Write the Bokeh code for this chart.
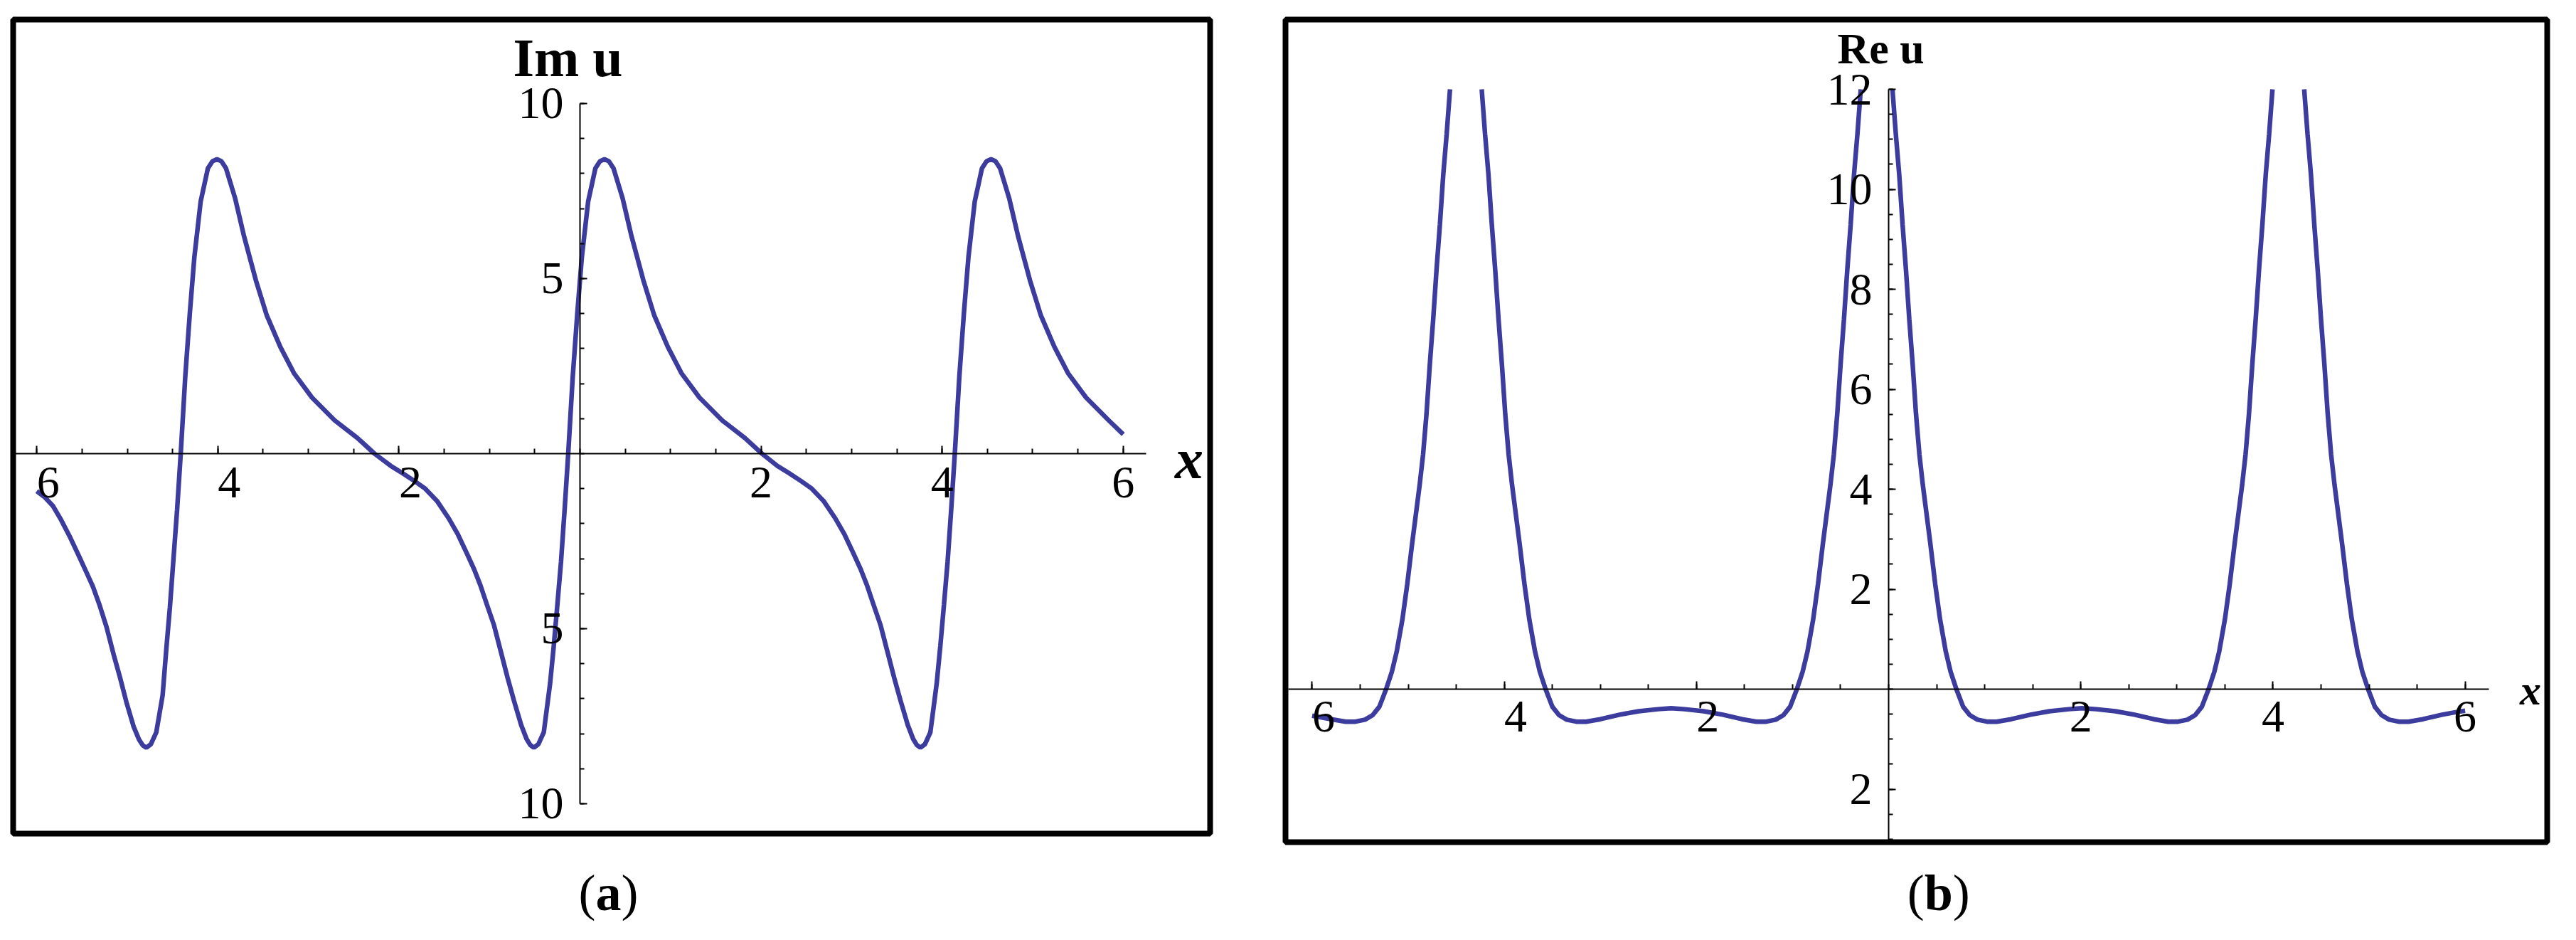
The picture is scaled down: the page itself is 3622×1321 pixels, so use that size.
import numpy as np
from bokeh.plotting import figure
from bokeh.models import Range1d, FixedTicker, Label, ColumnDataSource
from bokeh.layouts import row, column
from bokeh.embed import file_html
from bokeh.resources import INLINE

NAN = float("nan")

# ---------------- data: panel (a)  Im u ----------------
im_x = [-6.00, -5.91, -5.82, -5.73, -5.63, -5.53, -5.45, -5.38, -5.31, -5.23, -5.15, -5.08, -5.01,
        -4.93, -4.87, -4.83, -4.79, -4.74, -4.68, -4.61, -4.57, -4.53, -4.49, -4.45, -4.41,
        -4.36, -4.31, -4.26, -4.19, -4.11, -4.06, -4.01, -3.96, -3.91, -3.81, -3.71, -3.58,
        -3.46, -3.31, -3.16, -2.96, -2.71, -2.46, -2.27,
        -2.09, -1.96, -1.83, -1.71, -1.58, -1.45, -1.35, -1.25, -1.17, -1.10, -1.03, -0.95,
        -0.87, -0.80, -0.73, -0.65, -0.59, -0.55, -0.51, -0.46, -0.40, -0.33, -0.29, -0.25,
        -0.21, -0.17, -0.13,
        -0.08, -0.03, 0.02, 0.09, 0.17, 0.22, 0.27, 0.32, 0.37, 0.47, 0.57, 0.70, 0.82, 0.97,
        1.12, 1.32, 1.57, 1.82, 2.01,
        2.18, 2.31, 2.44, 2.56, 2.69, 2.82, 2.92, 3.02, 3.10, 3.17, 3.24, 3.32, 3.40, 3.47,
        3.54, 3.62, 3.68, 3.72, 3.76, 3.81, 3.87, 3.94, 3.98, 4.02, 4.06, 4.10, 4.14,
        4.19, 4.24, 4.29, 4.36, 4.44, 4.49, 4.54, 4.59, 4.64, 4.74, 4.84, 4.97, 5.09, 5.24,
        5.39, 5.59, 5.84, 6.00]
im_y = [-1.07, -1.25, -1.5, -1.9, -2.4, -2.95, -3.4, -3.8, -4.3, -4.95, -5.75, -6.4, -7.1,
        -7.8, -8.17, -8.33, -8.40, -8.3, -7.96, -6.9, -5.6, -4.4, -3.0, -1.6, 0.0,
        2.2, 4.0, 5.6, 7.2, 8.15, 8.35, 8.41, 8.35, 8.15, 7.3, 6.2, 4.95,
        3.95, 3.05, 2.3, 1.6, 0.95, 0.45, 0.0,
        -0.35, -0.56, -0.78, -1.0, -1.35, -1.85, -2.3, -2.85, -3.3, -3.76, -4.3, -4.9,
        -5.7, -6.4, -7.05, -7.75, -8.15, -8.32, -8.40, -8.3, -7.96, -6.56, -5.5, -4.32,
        -3.1, -1.6, 0.0,
        2.2, 4.0, 5.6, 7.2, 8.15, 8.35, 8.41, 8.35, 8.15, 7.3, 6.2, 4.95, 3.95, 3.05,
        2.3, 1.6, 0.95, 0.45, 0.0,
        -0.35, -0.56, -0.78, -1.0, -1.35, -1.85, -2.3, -2.85, -3.3, -3.76, -4.3, -4.9, -5.7, -6.4,
        -7.05, -7.75, -8.15, -8.32, -8.40, -8.3, -7.96, -6.56, -5.5, -4.32, -3.1, -1.6, 0.0,
        2.2, 4.0, 5.6, 7.2, 8.15, 8.35, 8.41, 8.35, 8.15, 7.3, 6.2, 4.95, 3.95, 3.05,
        2.3, 1.6, 0.95, 0.55]

# ---------------- data: panel (b)  Re u (clipped at the top of the plot range) ----------------
re_x = [-6.00, -5.80, -5.65, -5.55, -5.45, -5.37, -5.30, -5.23, -5.17, -5.12, -5.06, -5.01,
        -4.96, -4.92, -4.88, -4.845, -4.81, -4.775, -4.74, -4.705, -4.67, -4.635, -4.60, -4.565,
        NAN,
        -4.235, -4.20, -4.165, -4.13, -4.095, -4.06, -4.025, -3.99, -3.955, -3.92, -3.88, -3.84,
        -3.79, -3.74, -3.68, -3.63, -3.57, -3.50, -3.43, -3.35, -3.25, -3.15, -3.00, -2.80,
        -2.60, -2.40, -2.265,
        -2.125, -1.925, -1.725, -1.525, -1.375, -1.275, -1.175, -1.095, -1.025, -0.955,
        -0.895, -0.845, -0.785, -0.735, -0.685, -0.645, -0.605, -0.57, -0.535, -0.50,
        -0.465, -0.43, -0.395, -0.36, -0.325, -0.29,
        NAN,
        0.04, 0.075, 0.11, 0.145, 0.18, 0.215, 0.25, 0.285, 0.32, 0.355,
        0.395, 0.435, 0.485, 0.535, 0.595, 0.645, 0.705, 0.775, 0.845, 0.925,
        1.025, 1.125, 1.275, 1.475, 1.675, 1.875, 2.01,
        2.16, 2.36, 2.56, 2.76, 2.91, 3.01, 3.11, 3.19, 3.26, 3.33,
        3.39, 3.44, 3.50, 3.55, 3.60, 3.64, 3.68, 3.715, 3.75, 3.785,
        3.82, 3.855, 3.89, 3.925, 3.96, 3.995,
        NAN,
        4.325, 4.36, 4.395, 4.43, 4.465, 4.50, 4.535, 4.57, 4.605, 4.64,
        4.68, 4.72, 4.77, 4.82, 4.88, 4.93, 4.99, 5.06, 5.13, 5.21,
        5.31, 5.41, 5.56, 5.76, 5.90, 6.00]
re_y = [-0.53, -0.60, -0.65, -0.65, -0.61, -0.52, -0.35, 0.0, 0.35, 0.75, 1.4, 2.1,
        2.9, 3.5, 4.1, 4.7, 5.5, 6.5, 7.4, 8.4, 9.3, 10.3, 11.1, 12.0,
        NAN,
        12.0, 11.1, 10.3, 9.3, 8.4, 7.4, 6.5, 5.5, 4.7, 4.1, 3.5, 2.9,
        2.1, 1.4, 0.75, 0.35, 0.0, -0.35, -0.52, -0.61, -0.65, -0.65, -0.60, -0.51,
        -0.44, -0.40, -0.38,
        -0.40, -0.44, -0.51, -0.60, -0.65, -0.65, -0.61, -0.52, -0.35, 0.0,
        0.35, 0.75, 1.4, 2.1, 2.9, 3.5, 4.1, 4.7, 5.5, 6.5,
        7.4, 8.4, 9.3, 10.3, 11.1, 12.0,
        NAN,
        12.0, 11.1, 10.3, 9.3, 8.4, 7.4, 6.5, 5.5, 4.7, 4.1,
        3.5, 2.9, 2.1, 1.4, 0.75, 0.35, 0.0, -0.35, -0.52, -0.61,
        -0.65, -0.65, -0.60, -0.51, -0.44, -0.40, -0.38,
        -0.40, -0.44, -0.51, -0.60, -0.65, -0.65, -0.61, -0.52, -0.35, 0.0,
        0.35, 0.75, 1.4, 2.1, 2.9, 3.5, 4.1, 4.7, 5.5, 6.5,
        7.4, 8.4, 9.3, 10.3, 11.1, 12.0,
        NAN,
        12.0, 11.1, 10.3, 9.3, 8.4, 7.4, 6.5, 5.5, 4.7, 4.1,
        3.5, 2.9, 2.1, 1.4, 0.75, 0.35, 0.0, -0.35, -0.52, -0.61,
        -0.65, -0.65, -0.60, -0.51, -0.46, -0.43]

# ---------------- ticks (labels as printed: the minus signs are not shown) ----------------
x_ticks = [-6, -4, -2, 2, 4, 6]
x_tick_labels = ["6", "4", "2", "2", "4", "6"]
im_y_ticks = [-10, -5, 5, 10]
im_y_tick_labels = ["10", "5", "5", "10"]
re_y_ticks = [-2, 2, 4, 6, 8, 10, 12]
re_y_tick_labels = ["2", "2", "4", "6", "8", "10", "12"]

im_label = "Im u"
re_label = "Re u"
x_label = "x"
caption_letters = ["a", "b"]

LINE = "#3c3c9e"
SERIF = "Liberation Serif"
TICK_FS = 64


def make_panel(xr, yr, fw, fh, bl, bt, br, bb, yticks, ylabels, yminor, ybounds):
    p = figure(x_range=Range1d(*xr), y_range=Range1d(*yr),
               frame_width=fw, frame_height=fh,
               min_border_left=bl, min_border_top=bt, min_border_right=br, min_border_bottom=bb,
               title=None, output_backend="svg", toolbar_location=None,
               background_fill_color="white", border_fill_color="white")
    p.grid.visible = False
    p.outline_line_color = "black"
    p.outline_line_width = 8
    p.outline_line_alpha = 1.0

    xa = p.xaxis[0]
    ya = p.yaxis[0]
    for ax in (xa, ya):
        ax.fixed_location = 0
        ax.axis_line_color = "black"
        ax.axis_line_width = 2
        ax.major_tick_line_color = "black"
        ax.major_tick_line_width = 2
        ax.minor_tick_line_color = "black"
        ax.minor_tick_line_width = 2
        ax.major_tick_out = 0
        ax.minor_tick_out = 0
        ax.major_label_text_font = SERIF
        ax.major_label_text_font_size = f"{TICK_FS}px"
        ax.major_label_text_color = "black"

    xa.bounds = (-6.25, 6.25)
    xa.ticker = FixedTicker(ticks=x_ticks, minor_ticks=list(np.arange(-6, 6.01, 0.5)))
    xa.major_label_overrides = {t: ("\u2002" + s if t < 0 else s) for t, s in zip(x_ticks, x_tick_labels)}
    xa.major_tick_in = 11
    xa.minor_tick_in = 7
    xa.major_label_standoff = 5

    ya.bounds = ybounds
    ya.ticker = FixedTicker(ticks=yticks, minor_ticks=yminor)
    ya.major_label_overrides = {t: s for t, s in zip(yticks, ylabels)}
    ya.major_tick_in = 10
    ya.minor_tick_in = 6
    ya.major_label_standoff = 23
    return p


def caption_fig(width, center_x, letter, letter_w):
    """A strip below a panel carrying the caption '(letter)' with a bold letter."""
    h = 112
    c = figure(width=width, height=h, x_range=Range1d(0, width), y_range=Range1d(0, h),
               x_axis_location=None, y_axis_location=None, title=None,
               output_backend="svg", toolbar_location=None, min_border=0,
               outline_line_color=None, background_fill_color="white", border_fill_color="white")
    c.grid.visible = False
    half = letter_w / 2 + 12
    for t, off, st in (("(", -half, "normal"), (letter, 0, "bold"), (")", half, "normal")):
        c.add_layout(Label(x=center_x, y=h - 62, x_offset=off, text=t, text_font=SERIF,
                           text_font_size="72px", text_font_style=st, text_align="center",
                           text_baseline="middle", text_color="black"))
    return c


# ---------------- panel (a) ----------------
pa = make_panel(xr=(-6.261, 6.960), yr=(-10.854, 12.398), fw=1683, fh=1144,
                bl=18, bt=27, br=20, bb=21,
                yticks=im_y_ticks, ylabels=im_y_tick_labels,
                yminor=list(np.arange(-10, 10.01, 1.0)), ybounds=(-10, 10))
pa.line(x=im_x, y=im_y, line_color=LINE, line_width=6.5)
pa.add_layout(Label(x=0, y=10, x_offset=-17, y_offset=64, text=im_label, text_font=SERIF,
                    text_font_size="76px", text_font_style="bold", text_align="center",
                    text_baseline="alphabetic", text_color="black"))
pa.add_layout(Label(x=6.25, y=0, x_offset=61, y_offset=-8, text=x_label, text_font=SERIF,
                    text_font_size="80px", text_font_style="bold italic", text_align="center",
                    text_baseline="alphabetic", text_color="black"))
cap_a = caption_fig(1721, 856, caption_letters[0], 36)

# ---------------- panel (b) ----------------
src_b = ColumnDataSource(dict(x=np.array(re_x), y=np.array(re_y)))
pb = make_panel(xr=(-6.277, 6.854), yr=(-3.060, 13.395), fw=1774, fh=1156,
                bl=86, bt=27, br=12, bb=9,
                yticks=re_y_ticks, ylabels=re_y_tick_labels,
                yminor=list(np.arange(-3, 12.01, 0.5)), ybounds=(-3.06, 12))
pb.xaxis[0].major_label_standoff = 2
pb.line(x="x", y="y", source=src_b, line_color=LINE, line_width=6.5)
pb.add_layout(Label(x=0, y=12, x_offset=-11, y_offset=58, text=re_label, text_font=SERIF,
                    text_font_size="62px", text_font_style="bold", text_align="center",
                    text_baseline="alphabetic", text_color="black"))
pb.add_layout(Label(x=6.25, y=0, x_offset=58, y_offset=-1, text=x_label, text_font=SERIF,
                    text_font_size="60px", text_font_style="bold italic", text_align="center",
                    text_baseline="alphabetic", text_color="black"))
cap_b = caption_fig(1872, 969, caption_letters[1], 40)

layout = row(column(pa, cap_a), column(pb, cap_b))
open("out.html", "w").write(file_html(layout, INLINE))
